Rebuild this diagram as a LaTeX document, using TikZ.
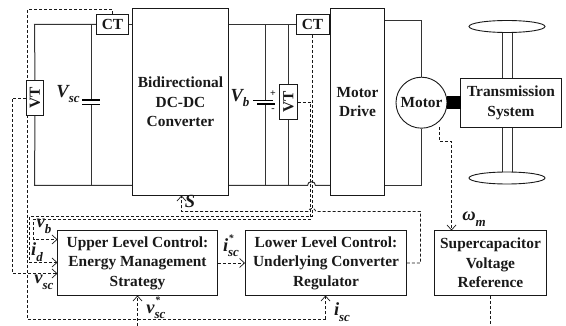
\documentclass[tikz,border=0pt]{standalone}
\usepackage{fontspec}
\setmainfont{Liberation Serif}
\usetikzlibrary{arrows.meta,backgrounds,shapes.geometric}
\newcommand{\sym}[3]{{\bfseries\itshape #1\rlap{\hspace{0.5pt}\raisebox{0.5em}{\fontsize{10}{10}\selectfont #3}}\raisebox{-0.3em}{\fontsize{13}{13}\selectfont #2}}}
\tikzset{
  x=1pt,y=-1pt,
  every node/.style={font=\fontsize{15.4}{19.5}\selectfont\bfseries,text=black!90},
  blockbox/.style={draw=black!90,fill=white,line width=0.9pt,align=center,inner sep=0pt},
  wire/.style={draw=black!80,line width=1pt},
  ctrl/.style={draw=black!90,line width=0.8pt,dash pattern=on 3pt off 2pt},
  ctrlarrow/.style={ctrl,-{Straight Barb[length=5pt,width=9pt,line width=0.7pt]}},
  symlabel/.style={font=\fontsize{18.5}{18.5}\selectfont,inner sep=0pt},
  plate/.style={draw=black,line width=1.7pt}
}
\begin{document}
\begin{tikzpicture}
\useasboundingbox (0,0) rectangle (566,326);
% blocks
\node[blockbox,minimum width=96pt,minimum height=187pt] (conv) at (180.5,102) {Bidirectional\\DC-DC\\Converter};
\node[blockbox,minimum width=54pt,minimum height=187pt] (drive) at (357.5,102) {Motor\\Drive};
\node[blockbox,minimum width=32pt,minimum height=20pt] (cta) at (112.5,24.5) {CT};
\node[blockbox,minimum width=33pt,minimum height=20pt] (ctb) at (312.5,24.5) {CT};
\node[blockbox,minimum width=35pt,minimum height=17pt,rotate=90] (vta) at (35,98) {VT};
\node[blockbox,minimum width=35pt,minimum height=18pt,rotate=90] (vtb) at (288.5,102) {VT};
\node[blockbox,circle,minimum size=51pt] (motor) at (421.5,102.7) {Motor};
\node[blockbox,minimum width=101pt,minimum height=49pt] (trans) at (511,103) {Transmission\\System};
\node[blockbox,minimum width=160pt,minimum height=65pt] (upper) at (137.5,263) {Upper Level Control:\\Energy Management\\Strategy};
\node[blockbox,minimum width=161pt,minimum height=65pt] (lower) at (326,263) {Lower Level Control:\\Underlying Converter\\Regulator};
\node[blockbox,minimum width=112pt,minimum height=65pt] (ref) at (490.5,263) {Supercapacitor\\Voltage\\Reference};
\node[blockbox,ellipse,minimum width=76pt,minimum height=12pt] (wheela) at (507,26.5) {};
\node[blockbox,ellipse,minimum width=76pt,minimum height=12pt] (wheelb) at (507,178) {};
% free points
\coordinate (bl) at (34.5,185.5);
\coordinate (tl) at (34.5,24.5);
\coordinate (capt) at (91.5,100);
\coordinate (capb) at (91.5,104.5);
\coordinate (batt) at (265.5,100);
\coordinate (batb) at (265.5,104);
\node[inner sep=0pt,font=\fontsize{10}{10}\selectfont\bfseries] (plus) at (273,94) {+};
\node[inner sep=0pt,font=\fontsize{10}{10}\selectfont\bfseries] (minus) at (273,110) {-};
\begin{scope}[on background layer]
\draw[wire] (cta.west) -- (tl) -- (vta.east);
\draw[wire] (vta.west) -- (bl) -- (132.5,185.5);
\draw[wire] (91.5,24.5) -- (capt);
\draw[wire] (capb) -- (91.5,185.5);
\draw[wire] (cta.east) -- (conv.west |- cta.east);
\draw[wire] (conv.east |- ctb.west) -- (ctb.west);
\draw[wire] (ctb.east) -- (drive.west |- ctb.east);
\draw[wire] (265.5,24.5) -- (batt);
\draw[wire] (batb) -- (265.5,185.5);
\draw[wire] (288.5,24.5) -- (vtb.east);
\draw[wire] (vtb.west) -- (288.5,185.5);
\draw[wire] (228.5,185.5) -- (307.5,185.5) .. controls (307.5,180.5) and (315.5,180.5) .. (315.5,185.5) -- (330.5,185.5);
\draw[wire] (384.5,20.5) -- (421.5,20.5) -- (motor.north);
\draw[wire] (384.5,185.5) -- (421.5,185.5) -- (motor.south);
\draw[wire] (502.5,32) -- (502.5,78.5) (512.5,32) -- (512.5,78.5);
\draw[wire] (502.5,127.5) -- (502.5,172.5) (512.5,127.5) -- (512.5,172.5);
\end{scope}
\draw[plate] (82,100) -- (100,100) (82,104.5) -- (100,104.5);
\draw[draw=black,line width=0.9pt] (253,100) -- (273,100);
\draw[draw=black,line width=2.2pt] (257,104) -- (275,104);
\fill[black] (447,96.5) rectangle (460.5,109);
% control lines
\begin{scope}[on background layer]
\draw[ctrlarrow] (439.5,127) -- (439.5,141.5) -- (451.5,141.5) -- (451.5,230.5);
\draw[ctrl] (ref.south) -- (490.5,326);
\draw[ctrlarrow] (upper.east) -- (lower.west);
\draw[ctrlarrow] (lower.east) -- (420.5,263) -- (420.5,211.5) -- (316,211.5) .. controls (315,207.5) and (309,207.5) .. (308,211.5) -- (181.5,211.5) -- (181.5,195.5);
\draw[ctrlarrow] (ctb.south) -- (312.5,216.5) -- (29.5,216.5) -- (29.5,262.5) -- (57.5,262.5);
\draw[ctrlarrow] (vtb.south) -- (310.5,102) -- (310.5,219.5) -- (33.5,219.5) -- (33.5,239.5) -- (57.5,239.5);
\draw[ctrlarrow] (vta.north) -- (12.5,98) -- (12.5,273.5) -- (57.5,273.5);
\draw[ctrl] (cta.north) -- (112.5,9.5) -- (27.5,9.5) -- (27.5,319.5) -- (325.5,319.5);
\draw[ctrlarrow] (325.5,319.5) -- (325.5,295.5);
\draw[ctrlarrow] (137.5,326) -- (137.5,295.5);
\end{scope}
% labels
\node[symlabel] (lvsc) at (68,94) {\sym{V}{sc}{}};
\node[symlabel] (lvb) at (240,98) {\sym{V}{b}{}};
\node[symlabel] (ls) at (190,204) {\sym{S}{}{}};
\node[symlabel] (lvbb) at (44,226) {\sym{v}{b}{}};
\node[symlabel] (lid) at (37,252) {\sym{i}{d}{}};
\node[symlabel] (lvsca) at (44,282) {\sym{v}{sc}{}};
\node[symlabel] (lvscs) at (156,308) {\sym{v}{sc}{*}};
\node[symlabel] (lisc) at (342,312) {\sym{i}{sc}{}};
\node[symlabel] (liscs) at (231,246) {\sym{i}{sc}{*}};
\node[symlabel] (lw) at (474,219) {\sym{ω}{m}{}};
\end{tikzpicture}
\end{document}
